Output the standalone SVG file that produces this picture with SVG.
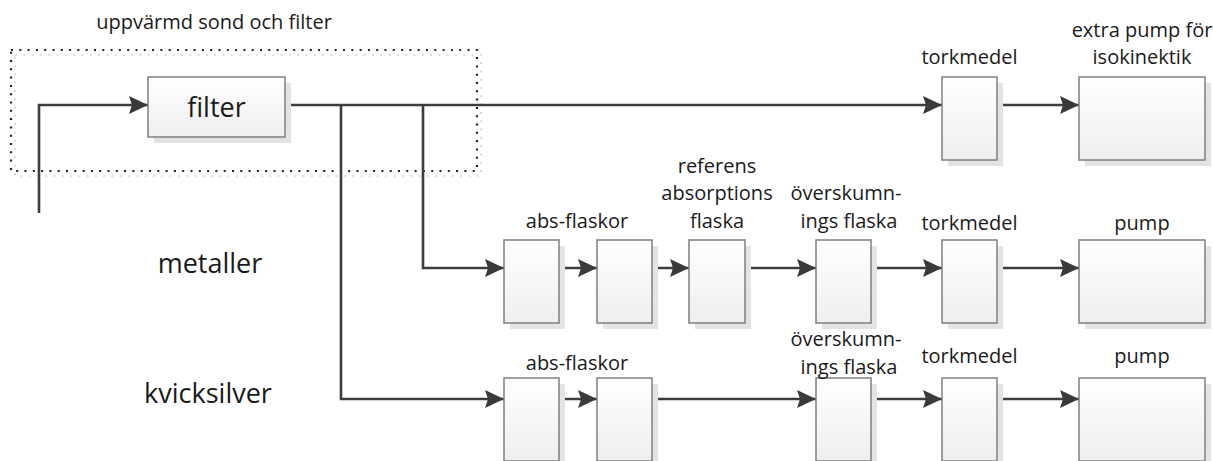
<svg xmlns="http://www.w3.org/2000/svg" width="1213" height="461" viewBox="0 0 1213 461">
<defs>
<linearGradient id="g" x1="0" y1="0" x2="0" y2="1">
<stop offset="0" stop-color="#ffffff"/>
<stop offset="1" stop-color="#eeeeee"/>
</linearGradient>
<marker id="arr" viewBox="0 0 19 18" refX="19" refY="9" markerWidth="19" markerHeight="18" markerUnits="userSpaceOnUse" orient="auto">
<path d="M0,0 L19,9 L0,18 L3,9 Z" fill="#3a3a3a"/>
</marker>
</defs>
<style>
.box{fill:url(#g);stroke:#7f7f7f;stroke-width:1.5}
.shadow{fill:#e3e3e3}
.c{fill:none;stroke:#3d3d3d;stroke-width:2.6;marker-end:url(#arr)}
text{font-family:"Open Sans","Noto Sans",sans-serif;fill:#1a1a1a;text-anchor:middle}
.s{font-size:20px}
.l{font-size:27px}
.dot{fill:none;stroke:#222;stroke-width:2.2;stroke-dasharray:2 6.3}
.dot2{fill:none;stroke:#d0d0d0;stroke-width:1.6;stroke-dasharray:2 6.3}
</style>

<g id="heated-zone">
<rect class="dot2" x="15" y="55" width="466" height="121"/>
<rect class="dot" x="11" y="50" width="466" height="121"/>
<text class="s" x="214" y="29">uppvärmd sond och filter</text>
</g>

<g id="labels">
<text class="l" x="210" y="273">metaller</text>
<text class="l" x="208" y="403">kvicksilver</text>
</g>

<g id="connectors">
<path class="c" d="M39,213 V105 H148"/>
<path class="c" d="M285,105 H942"/>
<path class="c" d="M997,105 H1079"/>
<path class="c" d="M423,105 V268 H504"/>
<path class="c" d="M559,268 H597"/>
<path class="c" d="M652,268 H689"/>
<path class="c" d="M745,268 H816"/>
<path class="c" d="M871,268 H942"/>
<path class="c" d="M997,268 H1079"/>
<path class="c" d="M341,105 V399 H504"/>
<path class="c" d="M559,399 H597"/>
<path class="c" d="M652,399 H816"/>
<path class="c" d="M871,399 H942"/>
<path class="c" d="M997,399 H1079"/>
</g>

<g id="filter">
<rect class="shadow" x="154" y="83" width="137" height="60"/>
<rect class="box" x="148" y="77" width="137" height="60"/>
<text class="l" x="216.5" y="117">filter</text>
</g>

<g id="torkmedel-1">
<rect class="shadow" x="948" y="83" width="55" height="83"/>
<rect class="box" x="942" y="77" width="55" height="83"/>
<text class="s" x="969.5" y="64">torkmedel</text>
</g>
<g id="extrapump">
<rect class="shadow" x="1085" y="83" width="126" height="83"/>
<rect class="box" x="1079" y="77" width="126" height="83"/>
<text class="s" x="1142" y="37">extra pump för</text>
<text class="s" x="1142" y="64">isokinektik</text>
</g>

<g id="abs-1-metaller">
<rect class="shadow" x="510" y="246" width="55" height="83"/>
<rect class="box" x="504" y="240" width="55" height="83"/>
</g>
<g id="abs-2-metaller">
<rect class="shadow" x="603" y="246" width="55" height="83"/>
<rect class="box" x="597" y="240" width="55" height="83"/>
<text class="s" x="577" y="228">abs-flaskor</text>
</g>
<g id="referens">
<rect class="shadow" x="695" y="246" width="56" height="83"/>
<rect class="box" x="689" y="240" width="56" height="83"/>
<text class="s" x="717" y="173">referens</text>
<text class="s" x="717" y="200">absorptions</text>
<text class="s" x="717" y="228">flaska</text>
</g>
<g id="overskumn-metaller">
<rect class="shadow" x="822" y="246" width="55" height="83"/>
<rect class="box" x="816" y="240" width="55" height="83"/>
<text class="s" x="846" y="200">överskumn-</text>
<text class="s" x="849" y="228">ings flaska</text>
</g>
<g id="torkmedel-2">
<rect class="shadow" x="948" y="246" width="55" height="83"/>
<rect class="box" x="942" y="240" width="55" height="83"/>
<text class="s" x="969.5" y="230">torkmedel</text>
</g>
<g id="pump-metaller">
<rect class="shadow" x="1085" y="246" width="126" height="83"/>
<rect class="box" x="1079" y="240" width="126" height="83"/>
<text class="s" x="1142" y="230">pump</text>
</g>

<g id="abs-1-kvicksilver">
<rect class="shadow" x="510" y="384" width="55" height="83"/>
<rect class="box" x="504" y="378" width="55" height="83"/>
</g>
<g id="abs-2-kvicksilver">
<rect class="shadow" x="603" y="384" width="55" height="83"/>
<rect class="box" x="597" y="378" width="55" height="83"/>
<text class="s" x="577" y="370">abs-flaskor</text>
</g>
<g id="overskumn-kvicksilver">
<rect class="shadow" x="822" y="384" width="55" height="83"/>
<rect class="box" x="816" y="378" width="55" height="83"/>
<text class="s" x="846" y="346">överskumn-</text>
<text class="s" x="849" y="374">ings flaska</text>
</g>
<g id="torkmedel-3">
<rect class="shadow" x="948" y="384" width="55" height="83"/>
<rect class="box" x="942" y="378" width="55" height="83"/>
<text class="s" x="969.5" y="363">torkmedel</text>
</g>
<g id="pump-kvicksilver">
<rect class="shadow" x="1085" y="384" width="126" height="83"/>
<rect class="box" x="1079" y="378" width="126" height="83"/>
<text class="s" x="1142" y="363">pump</text>
</g>
</svg>
